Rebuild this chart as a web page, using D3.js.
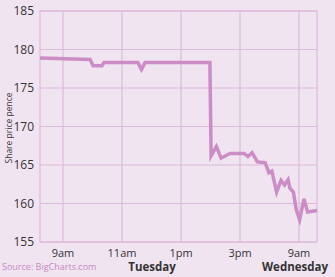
<!DOCTYPE html>
<html>
<head>
<meta charset="utf-8">
<script src="https://cdn.jsdelivr.net/npm/d3@7"></script>
<style>
    body { margin: 0; background: #f1e4f1; }
    svg { display: block; font-family: "Liberation Sans Narrow", "Open Sans", sans-serif; }
</style>
</head>
<body>
<div id="chart"></div>
<script>
// position on the trading axis (hours; Wednesday shifted to follow Tuesday's close)
let hours = [8.22, 9.92, 10.02, 10.32, 10.39, 11.54, 11.66, 11.78, 13.98, 14.02, 14.20, 14.36, 14.66,
    15.14, 15.27, 15.41, 15.59, 15.85, 15.98, 16.08, 16.24, 16.39, 16.51, 16.63, 16.69, 16.81,
    16.90, 17.02, 17.17, 17.29, 17.61];
let prices = [178.9, 178.7, 177.9, 177.9, 178.3, 178.3, 177.4, 178.3, 178.3, 166.2, 167.4, 165.9, 166.5,
    166.5, 166.1, 166.6, 165.4, 165.3, 164.0, 164.2, 161.5, 163.0, 162.4, 163.1, 162.0, 161.5,
    159.3, 157.9, 160.6, 158.9, 159.1];

let tickHours = [9, 11, 13, 15, 17];
let tickLabels = ["9am", "11am", "1pm", "3pm", "9am"];
let yTicks = [155, 160, 165, 170, 175, 180, 185];

let data = hours.map((h, i) => ({ hour: h, value: prices[i] }));

let width = 335, height = 277;
let margin = { top: 11, right: 18, bottom: 35, left: 40 };
let innerW = width - margin.left - margin.right,
    innerH = height - margin.top - margin.bottom;

let gridColor = "#dcbadc";
let lineColor = "#cc8cc6";

let svg = d3.select("#chart").append("svg")
    .attr("width", width)
    .attr("height", height);

let x = d3.scaleLinear().domain([8.22, 17.61]).range([0, innerW]);
let y = d3.scaleLinear().domain([155, 185]).range([innerH, 0]);

let g = svg.append("g")
    .attr("transform", "translate(" + margin.left + "," + margin.top + ")");

// grid
g.selectAll(".hgrid")
    .data(yTicks)
    .enter().append("line")
    .attr("x1", 0).attr("x2", innerW)
    .attr("y1", d => y(d)).attr("y2", d => y(d))
    .attr("stroke", gridColor)
    .attr("stroke-width", 1.2);

g.selectAll(".vgrid")
    .data(tickHours)
    .enter().append("line")
    .attr("x1", d => x(d)).attr("x2", d => x(d))
    .attr("y1", 0).attr("y2", innerH)
    .attr("stroke", gridColor)
    .attr("stroke-width", 1.2);

g.append("rect")
    .attr("width", innerW)
    .attr("height", innerH)
    .attr("fill", "none")
    .attr("stroke", gridColor)
    .attr("stroke-width", 1.2);

// y labels
g.selectAll(".ylab")
    .data(yTicks)
    .enter().append("text")
    .attr("x", -6)
    .attr("y", d => y(d))
    .attr("dy", "0.35em")
    .attr("text-anchor", "end")
    .style("font-size", "12px")
    .style("fill", "#333")
    .text(d => d);

// x labels
g.selectAll(".xlab")
    .data(tickHours)
    .enter().append("text")
    .attr("x", d => x(d))
    .attr("y", innerH + 14.5)
    .attr("text-anchor", "middle")
    .style("font-size", "11px")
    .style("fill", "#333")
    .text((d, i) => tickLabels[i]);

g.append("text")
    .attr("x", x(12.02))
    .attr("y", innerH + 29)
    .attr("text-anchor", "middle")
    .style("font-size", "11.5px")
    .style("font-weight", "bold")
    .style("fill", "#333")
    .text("Tuesday");

svg.append("text")
    .attr("x", width - 7)
    .attr("y", margin.top + innerH + 29)
    .attr("text-anchor", "end")
    .style("font-size", "11.5px")
    .style("font-weight", "bold")
    .style("fill", "#333")
    .text("Wednesday");

svg.append("text")
    .attr("x", 2)
    .attr("y", margin.top + innerH + 28)
    .style("font-size", "9px")
    .style("fill", "#c58ac2")
    .text("Source: BigCharts.com");

svg.append("text")
    .attr("transform", "translate(12,128) rotate(-90)")
    .attr("text-anchor", "middle")
    .style("font-size", "8.5px")
    .style("fill", "#333")
    .text("Share price pence");

// price line
let valueline = d3.line()
    .x(d => x(d.hour))
    .y(d => y(d.value));

g.append("path")
    .datum(data)
    .attr("d", valueline)
    .attr("fill", "none")
    .attr("stroke", lineColor)
    .attr("stroke-width", 3.5)
    .attr("stroke-linejoin", "miter");
</script>
</body>
</html>
